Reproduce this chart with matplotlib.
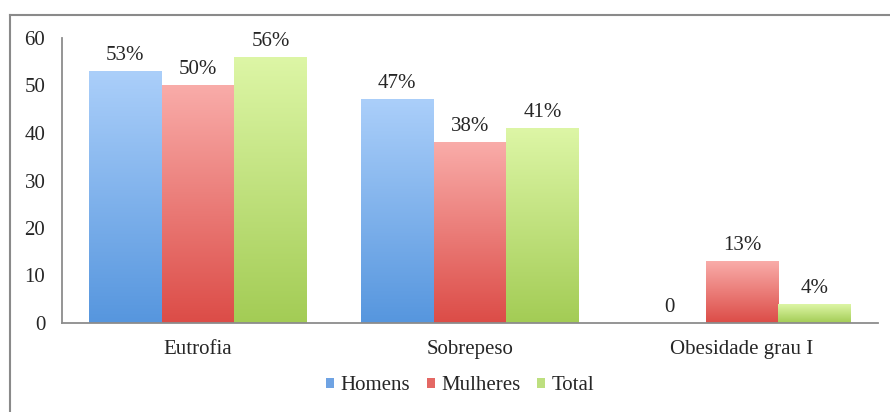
import numpy as np
import matplotlib
matplotlib.use("Agg")
import matplotlib.pyplot as plt
from matplotlib.colors import LinearSegmentedColormap
from matplotlib.patches import Patch
from matplotlib.lines import Line2D

# Data
categories = ["Eutrofia", "Sobrepeso", "Obesidade grau I"]
series = ["Homens", "Mulheres", "Total"]
homens = [53, 47, 0]
mulheres = [50, 38, 13]
total = [56, 41, 4]
labels_homens = ["53%", "47%", "0"]
labels_mulheres = ["50%", "38%", "13%"]
labels_total = ["56%", "41%", "4%"]
y_ticks = [0, 10, 20, 30, 40, 50, 60]

values = [homens, mulheres, total]
value_labels = [labels_homens, labels_mulheres, labels_total]

# (top colour, bottom colour) of each series' vertical gradient
gradients = [("#abcffa", "#5696de"),
             ("#f9aca9", "#dc4c47"),
             ("#ddf6a6", "#a3cc55")]
legend_colors = ["#6fa3e3", "#e46864", "#bddf7f"]

plt.rcParams["font.family"] = ["Liberation Serif", "DejaVu Serif"]
text_color = "#262626"
fs = 15

fig = plt.figure(figsize=(8.90, 4.12), dpi=100)
ax = fig.add_axes([62 / 890, (412 - 323) / 412, (878 - 62) / 890, (323 - 38) / 412])

x = np.arange(len(categories))
width = 0.268
offsets = [-width, 0.0, width]

for vals, labs, (top, bottom), off in zip(values, value_labels, gradients, offsets):
    cmap = LinearSegmentedColormap.from_list("g", [bottom, top])
    grad = np.linspace(0, 1, 256).reshape(-1, 1)
    bars = ax.bar(x + off, vals, width, color="none", edgecolor="none")
    for bar, lab in zip(bars, labs):
        x0, y0 = bar.get_x(), bar.get_y()
        w, h = bar.get_width(), bar.get_height()
        if h > 0:
            ax.imshow(grad, cmap=cmap, origin="lower", aspect="auto",
                      extent=[x0, x0 + w, y0, y0 + h], zorder=2,
                      interpolation="bicubic")
        ax.annotate(lab, (x0 + w / 2, y0 + h), xytext=(0, 11.5),
                    textcoords="offset points", ha="center", va="center",
                    fontsize=fs, color=text_color)

ax.set_xlim(-0.5, 2.5)
ax.set_ylim(0, 60)
ax.set_yticks(y_ticks)
ax.set_xticks(x)
ax.set_xticklabels(categories)
ax.tick_params(axis="both", length=0, labelsize=fs, colors=text_color)
ax.tick_params(axis="y", pad=12)
ax.tick_params(axis="x", pad=12)

for side in ("top", "right"):
    ax.spines[side].set_visible(False)
for side in ("left", "bottom"):
    ax.spines[side].set_color("#8c8c8c")
    ax.spines[side].set_linewidth(1.3)

handles = [Patch(facecolor=c, edgecolor="none") for c in legend_colors]
fig.legend(handles, series, loc="center", bbox_to_anchor=(460 / 890, 1 - 386 / 412),
           ncol=3, frameon=False, fontsize=fs, handlelength=0.4, handleheight=0.4,
           handletextpad=0.3, columnspacing=0.8, labelcolor=text_color)

# Outer frame (top and left edges)
fig.add_artist(Line2D([10 / 890, 1.0], [1 - 15 / 412, 1 - 15 / 412],
                      transform=fig.transFigure, color="#8a8a8a", lw=1.5))
fig.add_artist(Line2D([10 / 890, 10 / 890], [0.0, 1 - 15 / 412],
                      transform=fig.transFigure, color="#8a8a8a", lw=1.5))

fig.savefig("out.png", dpi=100)
